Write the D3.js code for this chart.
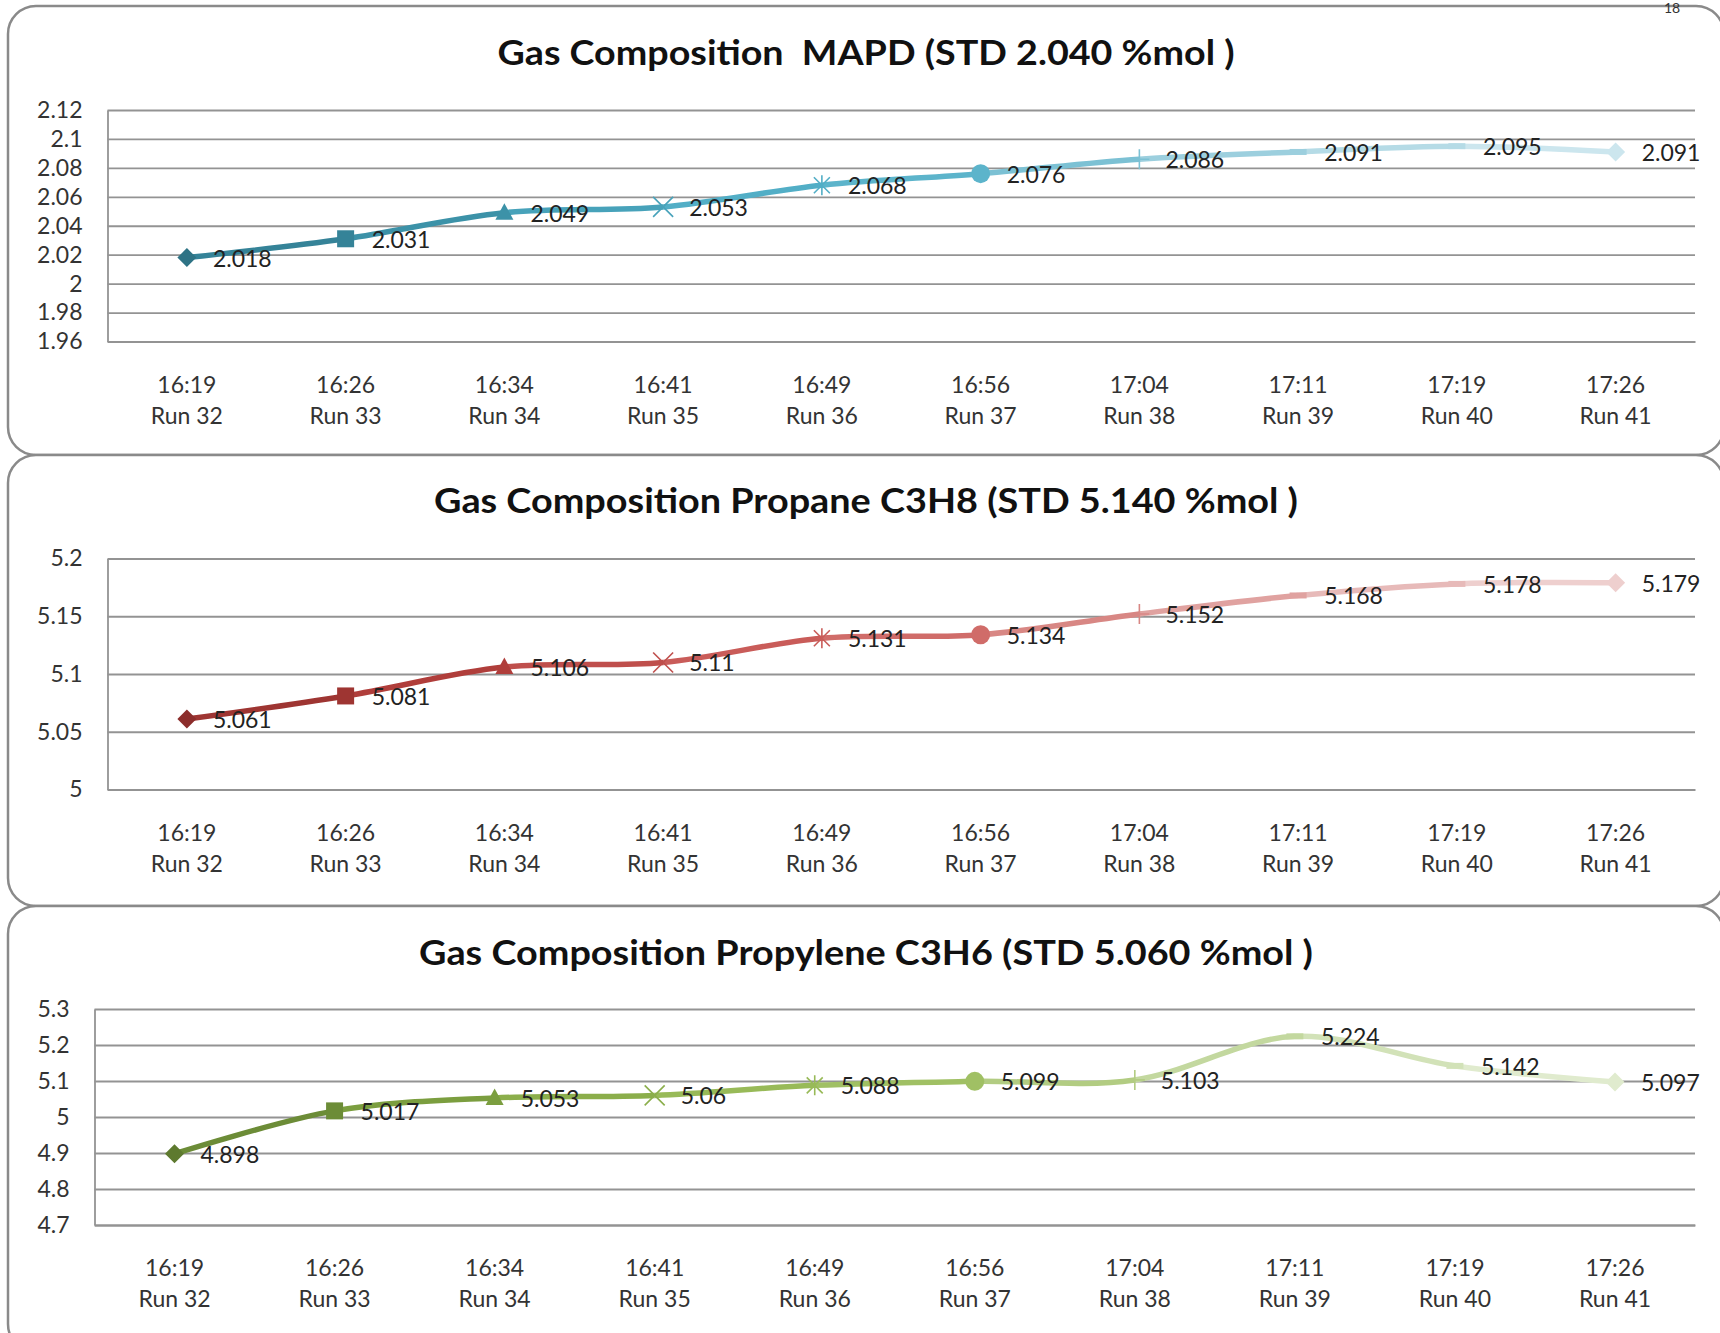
<!DOCTYPE html>
<html lang="en">
<head>
<meta charset="UTF-8">
<title>Gas Composition</title>
<script src="https://d3js.org/d3.v7.min.js"></script>
<style>
  body { margin: 0; background: #fff; }
  svg text { font-family: Lato, "Liberation Sans", sans-serif; }
</style>
</head>
<body>
<svg id="chart" width="1720" height="1333"></svg>
<script>
// data
const times = ["16:19", "16:26", "16:34", "16:41", "16:49", "16:56", "17:04", "17:11", "17:19", "17:26"];
const runs = ["Run 32", "Run 33", "Run 34", "Run 35", "Run 36", "Run 37", "Run 38", "Run 39", "Run 40", "Run 41"];
const mapdValues = [2.018, 2.031, 2.049, 2.053, 2.068, 2.076, 2.086, 2.091, 2.095, 2.091];
const propaneValues = [5.061, 5.081, 5.106, 5.11, 5.131, 5.134, 5.152, 5.168, 5.178, 5.179];
const propyleneValues = [4.898, 5.017, 5.053, 5.06, 5.088, 5.099, 5.103, 5.224, 5.142, 5.097];
const mapdTicks = [1.96, 1.98, 2, 2.02, 2.04, 2.06, 2.08, 2.1, 2.12];
const propaneTicks = [5, 5.05, 5.1, 5.15, 5.2];
const propyleneTicks = [4.7, 4.8, 4.9, 5, 5.1, 5.2, 5.3];
const markerShapes = ["diamond", "square", "triangle", "x", "star", "circle", "plus", "dash", "dash", "diamond"];

// point colours (dark -> light, one per point)
const tealShades = ["#2e7385", "#358398", "#3c92a8", "#47a2ba", "#52aec6", "#5cb4cb", "#7cc1d4", "#9ccfde", "#b5dbe6", "#cce6ee"];
const redShades = ["#8c2d2b", "#9e3532", "#b03e3b", "#bf4f4c", "#c95c59", "#d06c69", "#d88784", "#e0a2a0", "#e7bab9", "#eecfce"];
const greenShades = ["#5e7a2f", "#6c8c37", "#7b9e3f", "#8bae4b", "#98ba58", "#a0c064", "#b2cc82", "#c3d89f", "#d2e2b8", "#e0ebce"];

const charts = [
  { title: "Gas Composition  MAPD (STD 2.040 %mol )", titleW: 737, titleY: 65,
    values: mapdValues, ticks: mapdTicks, colors: tealShades,
    panel: [6, 455], left: 107.5, top: 110, bottom: 341.5 },
  { title: "Gas Composition Propane C3H8 (STD 5.140 %mol )", titleW: 864, titleY: 513,
    values: propaneValues, ticks: propaneTicks, colors: redShades,
    panel: [455, 906], left: 107.5, top: 558.5, bottom: 789.5 },
  { title: "Gas Composition Propylene C3H6 (STD 5.060 %mol )", titleW: 894, titleY: 965,
    values: propyleneValues, ticks: propyleneTicks, colors: greenShades,
    panel: [906, 1352], left: 94.5, top: 1009, bottom: 1225 }
];

const svg = d3.select("#chart");
const right = 1695;
const grid = "#939393";

function markerPath(shape) {
  switch (shape) {
    case "diamond": return "M0,-9.5L9.5,0L0,9.5L-9.5,0Z";
    case "square": return "M-8.5,-8.5H8.5V8.5H-8.5Z";
    case "triangle": return "M0,-9.5L9,7L-9,7Z";
    case "circle": return d3.symbol(d3.symbolCircle, Math.PI * 90)();
    case "x": return "M-10,-10L10,10M10,-10L-10,10";
    case "star": return "M-8,-8L8,8M8,-8L-8,8M0,-10V10";
    case "plus": return "M0,-10V10M-10,0H10";
    case "dash": return "M-8.5,-3H8.5V3H-8.5Z";
  }
}

charts.forEach(c => {
  // rounded panel
  svg.append("rect")
    .attr("x", 8).attr("y", c.panel[0])
    .attr("width", 1716).attr("height", c.panel[1] - c.panel[0])
    .attr("rx", 28).attr("ry", 28)
    .attr("fill", "#fff").attr("stroke", "#8a8a8a").attr("stroke-width", 2.5);
});

// page number near the top edge, over the panel border
svg.append("text").attr("x", 1672).attr("y", 13).attr("text-anchor", "middle")
  .attr("font-size", 14).attr("fill", "#333").text("18");

charts.forEach((c, ci) => {
  svg.append("text")
    .attr("x", 866).attr("y", c.titleY)
    .attr("text-anchor", "middle")
    .attr("font-size", 35).attr("font-weight", "bold").attr("fill", "#111")
    .attr("textLength", c.titleW).attr("lengthAdjust", "spacingAndGlyphs")
    .style("white-space", "pre")
    .text(c.title);

  const x = d3.scaleBand().domain(times).range([c.left, right]);
  const y = d3.scaleLinear().domain(d3.extent(c.ticks)).range([c.bottom, c.top]);
  const cx = d => x(d) + x.bandwidth() / 2;

  // y axis with gridlines
  const ya = svg.append("g").attr("transform", `translate(${c.left},0)`)
    .call(d3.axisLeft(y).tickValues(c.ticks).tickFormat(d => String(d))
      .tickSize(-(right - c.left)).tickSizeOuter(0).tickPadding(25));
  ya.select(".domain").attr("stroke", grid).attr("stroke-width", 1.8);
  ya.selectAll(".tick line").attr("stroke", grid).attr("stroke-width", 1.8);
  ya.selectAll(".tick text").attr("font-size", 23).attr("fill", "#333")
    .attr("font-family", "Lato, 'Liberation Sans', sans-serif");

  // x axis, two-line labels
  const xa = svg.append("g").attr("transform", `translate(0,${c.bottom})`)
    .call(d3.axisBottom(x).tickSize(0).tickSizeOuter(0));
  xa.select(".domain").attr("stroke", grid).attr("stroke-width", 1.8);
  xa.selectAll(".tick text").each(function (d, i) {
    const t = d3.select(this).text(null).attr("y", 0).attr("dy", null)
      .attr("font-size", 23).attr("fill", "#333")
      .attr("font-family", "Lato, 'Liberation Sans', sans-serif");
    t.append("tspan").attr("x", 0).attr("y", 42).attr("dominant-baseline", "central").text(d);
    t.append("tspan").attr("x", 0).attr("y", 73).attr("dominant-baseline", "central").text(runs[i]);
  });

  // smoothed line, each segment coloured by the point it leads to
  const pts = c.values.map((v, i) => [cx(times[i]), y(v)]);
  const line = d3.line().curve(d3.curveCardinal.tension(0));
  const pathD = line(pts);
  for (let i = 1; i < pts.length; i++) {
    const id = `clip-${ci}-${i}`;
    svg.append("clipPath").attr("id", id).append("rect")
      .attr("x", pts[i - 1][0]).attr("y", c.top - 40)
      .attr("width", pts[i][0] - pts[i - 1][0]).attr("height", c.bottom - c.top + 80);
    svg.append("path").attr("d", pathD).attr("clip-path", `url(#${id})`)
      .attr("fill", "none").attr("stroke", c.colors[i]).attr("stroke-width", 5.5);
  }

  // markers
  svg.append("g").selectAll("path").data(c.values).join("path")
    .attr("transform", (v, i) => `translate(${cx(times[i])},${y(v)})`)
    .attr("d", (v, i) => markerPath(markerShapes[i]))
    .each(function (v, i) {
      const s = markerShapes[i];
      const thin = s === "x" || s === "star" || s === "plus";
      d3.select(this)
        .attr("fill", thin ? "none" : c.colors[i])
        .attr("stroke", c.colors[i])
        .attr("stroke-width", thin ? 1.6 : 0);
    });

  // data labels to the right of each point
  svg.append("g").selectAll("text").data(c.values).join("text")
    .attr("x", (v, i) => cx(times[i]) + 26)
    .attr("y", v => y(v))
    .attr("dominant-baseline", "central")
    .attr("font-size", 23).attr("fill", "#222")
    .text(v => String(v));
});
</script>
</body>
</html>
